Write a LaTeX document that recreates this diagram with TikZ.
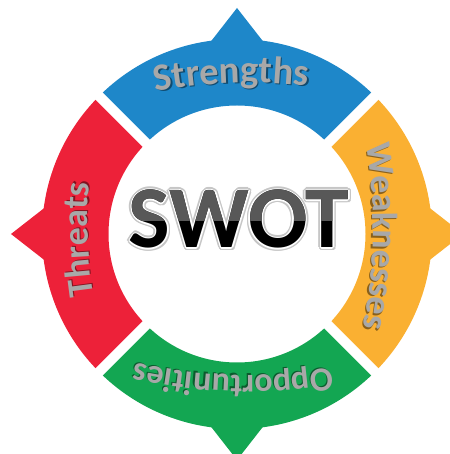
\documentclass[tikz,border=0pt]{standalone}
\usepackage{fontspec}
\newfontfamily\labelfont{Carlito}
\usetikzlibrary{calc,decorations.text}
\definecolor{swotblue}{RGB}{30,135,201}
\definecolor{swotorange}{RGB}{250,176,50}
\definecolor{swotgreen}{RGB}{19,166,82}
\definecolor{swotred}{RGB}{237,33,57}
\definecolor{labelgray}{RGB}{168,168,168}
\definecolor{swotdark}{RGB}{88,88,88}
\newcommand\labeltext[1]{\fontsize{#1}{#1}\selectfont\labelfont\bfseries}
\tikzset{
  swot/.style={font=\fontsize{88}{88}\selectfont\labelfont\bfseries,anchor=base,inner sep=0pt},
}
\begin{document}
\begin{tikzpicture}[x=1pt,y=1pt]
\useasboundingbox (-237,-220) rectangle (212,234);
% ring pieces with their points
\foreach \ang/\col in {90/swotblue,0/swotorange,270/swotgreen,180/swotred}
{
\fill[color=\col] (\ang+45:128.5) arc[start angle=\ang+45,end angle=\ang-45,radius=128.5]
  -- (\ang-45:195) arc[start angle=\ang-45,end angle=\ang+45,radius=195] -- cycle;
\fill[color=\col] (\ang:226) -- ($(\ang:185)+(\ang+90:32)$) -- ($(\ang:185)+(\ang-90:32)$) -- cycle;
}
\foreach \ang in {45,135,225,315} \draw[white,line width=10pt] (\ang:110) -- (\ang:240);
% labels on the ring
\foreach \ang/\rad/\fs/\txt in {92/151/38.5/Strengths,-1/136/36/Weaknesses,268.5/141/34/Opportunities,182/149/36/Threats}
{
\begin{scope}[rotate=\ang-90,opacity=0.45,shift={(1.2,-1.2)}]
\path[decorate,decoration={text along path,text align=center,
  text/.expanded={|\noexpand\labeltext{\fs}\noexpand\color{black}|\txt}}]
  ($(0,\rad-500)+(115:500)$) arc[start angle=115,end angle=65,radius=500];
\end{scope}
\begin{scope}[rotate=\ang-90]
\path[decorate,decoration={text along path,text align=center,
  text/.expanded={|\noexpand\labeltext{\fs}\noexpand\color{labelgray}|\txt}}]
  ($(0,\rad-500)+(115:500)$) arc[start angle=115,end angle=65,radius=500];
\end{scope}
}
% SWOT in the middle
\foreach \a in {0,30,...,330} \node[swot,text=gray!45] (g\a) at ($(2,-14)+(\a:3)$) {SWOT};
\foreach \a in {0,45,...,315} \node[swot,text=white] (w\a) at ($(2,-14)+(\a:1.4)$) {SWOT};
\node[swot,text=black] (swot) at (2,-14) {SWOT};
\begin{scope}
\clip (-150,13) rectangle (150,60);
\node[swot,text=swotdark] (swottop) at (2,-14) {SWOT};
\end{scope}
\end{tikzpicture}
\end{document}
